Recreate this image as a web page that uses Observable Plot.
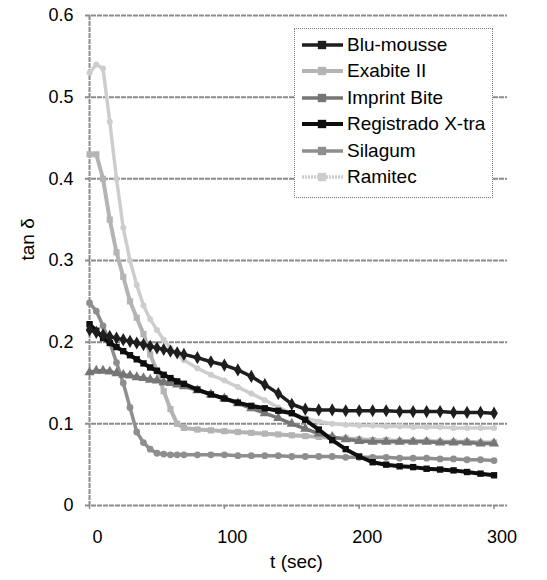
<!DOCTYPE html>
<html><head><meta charset="utf-8">
<script src="https://cdn.jsdelivr.net/npm/d3@7"></script>
<script src="https://cdn.jsdelivr.net/npm/@observablehq/plot@0.6"></script>
<style>
body{margin:0;background:#fff;}
#wrap{position:relative;width:547px;height:580px;font-family:"Liberation Sans",Arial,sans-serif;}
#legend{position:absolute;left:294px;top:28px;width:199px;height:170px;border:1px dotted #777;background:#fff;box-sizing:border-box;}
.item{position:absolute;left:0;height:26px;display:flex;align-items:center;font-size:19px;color:#000;white-space:nowrap;}
.item svg{display:block;}
</style></head><body><div id="wrap"></div>
<script>
const seriesNames = ["Blu-mousse","Exabite II","Imprint Bite","Registrado X-tra","Silagum","Ramitec"];
const times = [0,5,10,15,20,25,30,35,40,45,50,55,60,65,70,80,90,100,110,120,130,140,150,160,170,180,190,200,210,220,230,240,250,260,270,280,290,300];
const bluMousse = [0.215,0.212,0.209,0.207,0.205,0.203,0.201,0.199,0.197,0.195,0.193,0.191,0.189,0.187,0.185,0.181,0.176,0.172,0.166,0.158,0.148,0.137,0.124,0.118,0.117,0.117,0.116,0.116,0.116,0.116,0.115,0.115,0.115,0.115,0.114,0.114,0.114,0.113];
const exabite = [0.43,0.43,0.40,0.35,0.31,0.28,0.25,0.23,0.21,0.185,0.165,0.14,0.118,0.10,0.095,0.093,0.092,0.091,0.090,0.089,0.088,0.087,0.086,0.085,0.084,0.083,0.082,0.081,0.080,0.080,0.079,0.079,0.079,0.078,0.078,0.078,0.077,0.077];
const imprintBite = [0.163,0.165,0.165,0.164,0.162,0.160,0.159,0.157,0.156,0.154,0.153,0.151,0.150,0.148,0.146,0.141,0.136,0.131,0.125,0.119,0.113,0.107,0.100,0.094,0.088,0.084,0.081,0.079,0.078,0.078,0.078,0.078,0.078,0.077,0.077,0.077,0.076,0.076];
const registrado = [0.222,0.214,0.205,0.199,0.194,0.189,0.184,0.179,0.174,0.169,0.165,0.160,0.156,0.152,0.149,0.142,0.136,0.131,0.126,0.122,0.119,0.116,0.113,0.105,0.093,0.080,0.069,0.060,0.053,0.050,0.048,0.047,0.045,0.044,0.043,0.041,0.039,0.037];
const silagum = [0.248,0.238,0.22,0.20,0.175,0.15,0.12,0.09,0.077,0.069,0.064,0.063,0.062,0.062,0.062,0.062,0.062,0.062,0.061,0.061,0.061,0.061,0.060,0.060,0.060,0.060,0.059,0.059,0.059,0.059,0.058,0.058,0.058,0.057,0.057,0.056,0.056,0.055];
const ramitec = [0.53,0.54,0.535,0.47,0.40,0.34,0.30,0.27,0.245,0.228,0.215,0.203,0.193,0.185,0.178,0.168,0.160,0.153,0.145,0.137,0.129,0.120,0.113,0.107,0.103,0.100,0.099,0.098,0.098,0.097,0.097,0.096,0.096,0.096,0.095,0.095,0.095,0.095];
const xTicks = [0,100,200,300];
const yTicks = [0,0.1,0.2,0.3,0.4,0.5,0.6];

const values = [bluMousse, exabite, imprintBite, registrado, silagum, ramitec];
const styles = {
  "Blu-mousse":       {stroke:"#1e1e1e", w:3.5, sym:"diamond", r:4},
  "Exabite II":       {stroke:"#b4b4b4", w:4,   sym:"square",  r:3.5},
  "Imprint Bite":     {stroke:"#767676", w:3.5, sym:"triangle",r:3.8},
  "Registrado X-tra": {stroke:"#0e0e0e", w:4,   sym:"square",  r:3.6},
  "Silagum":          {stroke:"#8e8e8e", w:3.5, sym:"circle",  r:3.4},
  "Ramitec":          {stroke:"#cdcdcd", w:3.5, sym:"circle",  r:3, dash:"2 1"}
};
const rows = seriesNames.map((s, i) => times.map((t, j) => ({series: s, t, v: values[i][j]})));
const drawOrder = ["Ramitec","Exabite II","Silagum","Imprint Bite","Registrado X-tra","Blu-mousse"];
const dataMarks = [];
for (const s of drawOrder) {
  const d = rows[seriesNames.indexOf(s)];
  const st = styles[s];
  dataMarks.push(Plot.line(d, {x:"t", y:"v", stroke:st.stroke, strokeWidth:st.w, strokeDasharray:st.dash || null}));
  dataMarks.push(Plot.dot(d, {x:"t", y:"v", fill:st.stroke, symbol:st.sym, r:st.r, stroke:null}));
}

const font = '"Liberation Sans", Arial, sans-serif';
const chart = Plot.plot({
  width:547, height:580,
  marginLeft:85, marginRight:40, marginTop:15, marginBottom:75,
  x:{domain:[-3,310]},
  y:{domain:[0,0.6]},
  style:{fontFamily:font, fontSize:"18px", color:"#000", background:"#fff"},
  marks:[
    Plot.gridY(yTicks, {stroke:"#8c8c8c", strokeOpacity:1, strokeWidth:2, strokeDasharray:"5 1"}),
    Plot.ruleX([0], {stroke:"#8c8c8c", strokeWidth:2, strokeDasharray:"5 1"}),
    Plot.axisX(xTicks, {tickSize:4, stroke:"#8c8c8c", strokeWidth:1.5, tickFormat:() => "", label:null}),
    Plot.axisX(xTicks, {tickSize:0, tickPadding:25, dx:8, label:null, tickFormat:d => String(d), fontSize:18}),
    Plot.axisY(yTicks, {tickSize:0, tickPadding:12, label:null, tickFormat:d => d === 0 ? "0" : d.toFixed(1), fontSize:18}),
    ...dataMarks,
    Plot.text(["tan δ"], {frameAnchor:"left", rotate:-90, dx:-58, fontSize:19}),
    Plot.text(["t (sec)"], {frameAnchor:"bottom", dy:62, fontSize:19})
  ]
});
const wrap = document.getElementById("wrap");
wrap.appendChild(chart);

// legend overlay
const legend = document.createElement("div");
legend.id = "legend";
seriesNames.forEach((s, i) => {
  const st = styles[s];
  const item = document.createElement("div");
  item.className = "item";
  item.style.top = (3 + i * 26.4) + "px";
  const svg = d3.create("svg").attr("width", 52).attr("height", 16);
  svg.append("line").attr("x1", 7).attr("x2", 48).attr("y1", 8).attr("y2", 8)
    .attr("stroke", st.stroke).attr("stroke-width", st.w).attr("stroke-dasharray", st.dash || null);
  svg.append("path").attr("transform", "translate(27,8)")
    .attr("d", d3.symbol(d3.symbolSquare, 70)())
    .attr("fill", st.stroke);
  item.appendChild(svg.node());
  const span = document.createElement("span");
  span.textContent = s;
  item.appendChild(span);
  legend.appendChild(item);
});
wrap.appendChild(legend);
</script>
</body></html>
